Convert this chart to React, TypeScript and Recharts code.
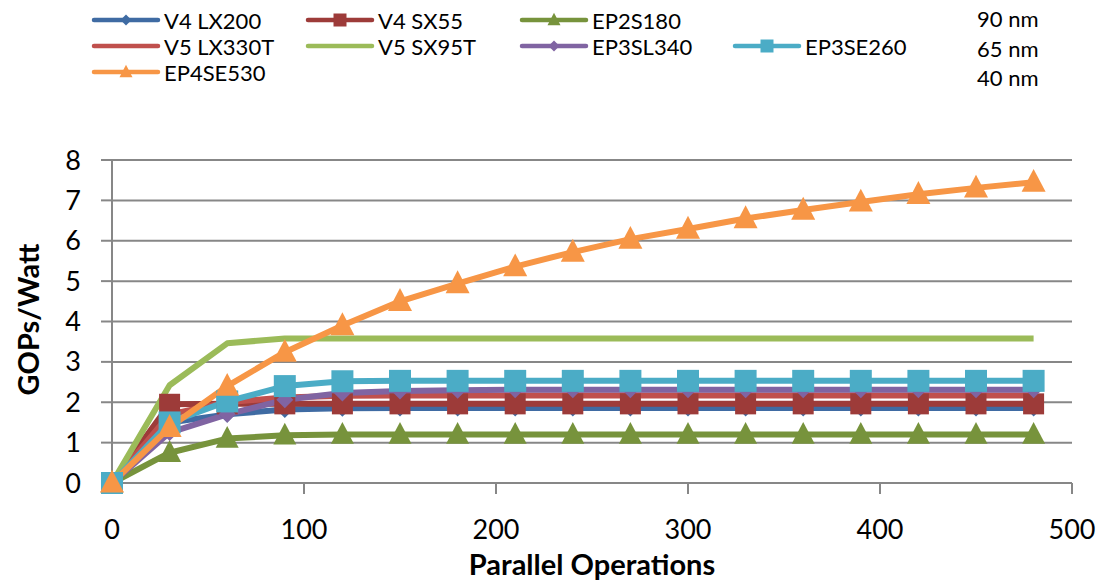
import React from "react";
import { LineChart, Line, XAxis, YAxis, CartesianGrid } from "recharts";

const FONT = "Lato, 'Open Sans', sans-serif";

const parallelOps = [0, 30, 60, 90, 120, 150, 180, 210, 240, 270, 300, 330, 360, 390, 420, 450, 480];

const v4lx200 = [0, 1.5, 1.7, 1.82, 1.85, 1.86, 1.86, 1.86, 1.86, 1.86, 1.86, 1.86, 1.86, 1.86, 1.86, 1.86, 1.86];
const v4sx55 = [0, 1.95, 1.96, 1.96, 1.96, 1.96, 1.96, 1.96, 1.96, 1.96, 1.96, 1.96, 1.96, 1.96, 1.96, 1.96, 1.96];
const ep2s180 = [0, 0.75, 1.1, 1.18, 1.2, 1.2, 1.2, 1.2, 1.2, 1.2, 1.2, 1.2, 1.2, 1.2, 1.2, 1.2, 1.2];
const v5lx330t = [0, 1.7, 2.0, 2.12, 2.16, 2.17, 2.17, 2.17, 2.17, 2.17, 2.17, 2.17, 2.17, 2.17, 2.17, 2.17, 2.17];
const v5sx95t = [0, 2.42, 3.46, 3.58, 3.58, 3.58, 3.58, 3.58, 3.58, 3.58, 3.58, 3.58, 3.58, 3.58, 3.58, 3.58, 3.58];
const ep3sl340 = [0, 1.25, 1.7, 2.06, 2.23, 2.28, 2.3, 2.31, 2.31, 2.31, 2.31, 2.31, 2.31, 2.31, 2.31, 2.31, 2.31];
const ep3se260 = [0, 1.5, 2.02, 2.4, 2.52, 2.53, 2.53, 2.53, 2.53, 2.53, 2.53, 2.53, 2.53, 2.53, 2.53, 2.53, 2.53];
const ep4se530 = [0, 1.38, 2.4, 3.24, 3.9, 4.5, 4.94, 5.36, 5.72, 6.04, 6.29, 6.55, 6.76, 6.96, 7.15, 7.31, 7.45];

const xTicks = [0, 100, 200, 300, 400, 500];
const yTicks = [0, 1, 2, 3, 4, 5, 6, 7, 8];
const nodeLabels = ["90 nm", "65 nm", "40 nm"];

type Shape = "diamond" | "square" | "triangle" | "none";

const seriesDefs: { key: string; name: string; values: number[]; color: string; shape: Shape; size: number }[] = [
  { key: "v4lx200", name: "V4 LX200", values: v4lx200, color: "#3F6BA3", shape: "diamond", size: 17 },
  { key: "v4sx55", name: "V4 SX55", values: v4sx55, color: "#9D3B39", shape: "square", size: 21 },
  { key: "ep2s180", name: "EP2S180", values: ep2s180, color: "#77933C", shape: "triangle", size: 23 },
  { key: "v5lx330t", name: "V5 LX330T", values: v5lx330t, color: "#C0504D", shape: "none", size: 0 },
  { key: "v5sx95t", name: "V5 SX95T", values: v5sx95t, color: "#9BBB59", shape: "none", size: 0 },
  { key: "ep3sl340", name: "EP3SL340", values: ep3sl340, color: "#8064A2", shape: "diamond", size: 17 },
  { key: "ep3se260", name: "EP3SE260", values: ep3se260, color: "#4BACC6", shape: "square", size: 22 },
  { key: "ep4se530", name: "EP4SE530", values: ep4se530, color: "#F79646", shape: "triangle", size: 24 },
];

const data = parallelOps.map((x, i) => {
  const row: Record<string, number> = { x };
  seriesDefs.forEach((s) => {
    row[s.key] = s.values[i];
  });
  return row;
});

function markerPath(shape: Shape, cx: number, cy: number, size: number): string {
  const h = size / 2;
  if (shape === "diamond") {
    return `M${cx},${cy - h}L${cx + h},${cy}L${cx},${cy + h}L${cx - h},${cy}Z`;
  }
  if (shape === "square") {
    return `M${cx - h},${cy - h}L${cx + h},${cy - h}L${cx + h},${cy + h}L${cx - h},${cy + h}Z`;
  }
  if (shape === "triangle") {
    return `M${cx},${cy - size * 0.55}L${cx + h},${cy + size * 0.4}L${cx - h},${cy + size * 0.4}Z`;
  }
  return "";
}

const makeDot = (shape: Shape, color: string, size: number) => (props: any) => {
  const { cx, cy, index } = props;
  if (shape === "none" || cx == null || cy == null) return <g key={`d-${index}`} />;
  return <path key={`d-${index}`} d={markerPath(shape, cx, cy, size)} fill={color} stroke="none" />;
};

const legendCols = [92, 306, 520, 733];
const legendRows = [20, 46, 72];
const legendPlacement = [
  [0, 0],
  [0, 1],
  [0, 2],
  [1, 0],
  [1, 1],
  [1, 2],
  [1, 3],
  [2, 0],
];

function LegendOverlay() {
  return (
    <svg width={1102} height={100} style={{ position: "absolute", left: 0, top: 0 }}>
      {seriesDefs.map((s, i) => {
        const [r, c] = legendPlacement[i];
        const x0 = legendCols[c];
        const y = legendRows[r];
        const mid = x0 + 34;
        return (
          <g key={s.key}>
            <line x1={x0 + 2} y1={y} x2={x0 + 66} y2={y} stroke={s.color} strokeWidth={4.5} strokeLinecap="round" />
            {s.shape !== "none" && (
              <path d={markerPath(s.shape, mid, y, s.shape === "diamond" ? 11 : 13)} fill={s.color} />
            )}
            <text x={x0 + 72} y={y} dominantBaseline="central" fontFamily={FONT} fontSize={22} fill="#000">
              {s.name}
            </text>
          </g>
        );
      })}
      {nodeLabels.map((t, i) => (
        <text key={t} x={977} y={[18, 48, 77][i]} dominantBaseline="central" fontFamily={FONT} fontSize={22} fill="#000">
          {t}
        </text>
      ))}
    </svg>
  );
}

export default function App() {
  return (
    <div style={{ position: "absolute", left: 0, top: 0, width: 1102, height: 583, background: "#fff" }}>
      <LineChart
        width={1102}
        height={583}
        data={data}
        margin={{ top: 160, right: 30, bottom: 0, left: 0 }}
      >
        <CartesianGrid horizontal={true} vertical={false} stroke="#878787" strokeWidth={2} />
        <XAxis
          type="number"
          dataKey="x"
          domain={[0, 500]}
          ticks={xTicks}
          height={100}
          tickSize={11}
          tickMargin={26}
          axisLine={{ stroke: "#878787", strokeWidth: 2 }}
          tickLine={{ stroke: "#878787", strokeWidth: 2 }}
          tick={{ fill: "#000", fontSize: 27, fontFamily: FONT }}
          label={{
            value: "Parallel Operations",
            position: "insideBottom",
            offset: 8,
            fill: "#000",
            fontSize: 29,
            fontWeight: 700,
            fontFamily: FONT,
          }}
        />
        <YAxis
          type="number"
          domain={[0, 8]}
          ticks={yTicks}
          width={112}
          tickSize={11}
          tickMargin={20}
          axisLine={{ stroke: "#878787", strokeWidth: 2 }}
          tickLine={{ stroke: "#878787", strokeWidth: 2 }}
          tick={{ fill: "#000", fontSize: 27, fontFamily: FONT }}
          label={{
            content: (p: any) => {
              const vb = p.viewBox || { x: 0, y: 160, width: 112, height: 323 };
              const cx = vb.x + 27;
              const cy = vb.y + vb.height / 2 - 2;
              return (
                <text
                  x={cx}
                  y={cy}
                  transform={`rotate(-90, ${cx}, ${cy})`}
                  textAnchor="middle"
                  dominantBaseline="central"
                  fontFamily={FONT}
                  fontSize={29}
                  fontWeight={700}
                  fill="#000"
                >
                  GOPs/Watt
                </text>
              );
            },
          }}
        />
        {seriesDefs.map((s) => (
          <Line
            key={s.key}
            type="linear"
            dataKey={s.key}
            name={s.name}
            stroke={s.color}
            strokeWidth={6}
            dot={makeDot(s.shape, s.color, s.size)}
            activeDot={false}
            isAnimationActive={false}
            strokeLinejoin="round"
          />
        ))}
      </LineChart>
      <LegendOverlay />
    </div>
  );
}
